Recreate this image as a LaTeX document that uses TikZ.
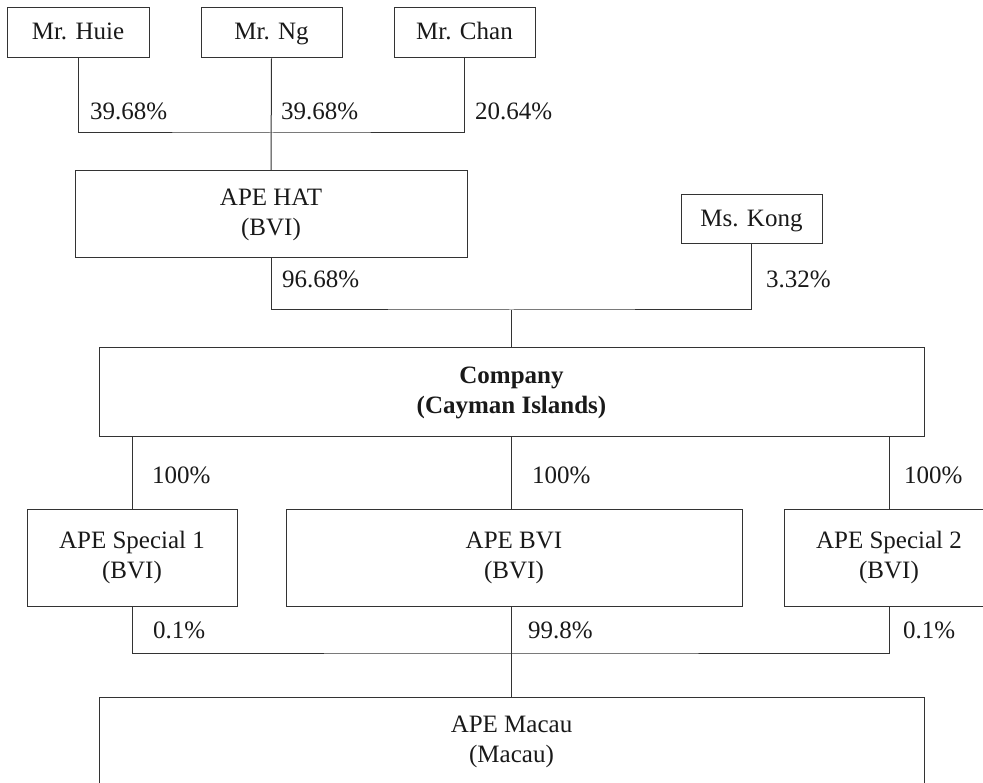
\documentclass[tikz,border=0pt]{standalone}
\usepackage{fontspec}
\setmainfont{Liberation Serif}
\begin{document}
\begin{tikzpicture}[x=1pt,y=-1pt,
  box/.style={draw=black!80, line width=1pt, rectangle, inner sep=0pt, align=center,
    font=\fontsize{25}{30}\selectfont, text=black!90},
  onebox/.style={box, text height=18pt, text depth=4pt},
  pct/.style={anchor=base west, inner sep=0pt, font=\fontsize{25}{30}\selectfont, text=black!90},
  conn/.style={draw=black!80, line width=1pt}]
\useasboundingbox (0,0) rectangle (983,783);
\clip (0,0) rectangle (983,783);
% owners
\node[onebox, minimum width=142pt, minimum height=50pt] (huie) at (78,33) {Mr. Huie};
\node[onebox, minimum width=141pt, minimum height=50pt] (ng) at (271.5,33) {Mr. Ng};
\node[onebox, minimum width=141pt, minimum height=50pt] (chan) at (464.5,33) {Mr. Chan};
\node[box, minimum width=392pt, minimum height=87pt] (hat) at (271,214.5) {APE HAT\\(BVI)};
\node[onebox, minimum width=141pt, minimum height=49pt] (kong) at (751.5,219.5) {Ms. Kong};
\node[box, minimum width=825pt, minimum height=89pt] (company) at (511.5,392.5) {\textbf{Company}\\\textbf{(Cayman Islands)}};
\node[box, minimum width=210pt, minimum height=97pt] (sp1) at (132,557.5) {APE Special 1\\(BVI)};
\node[box, minimum width=456pt, minimum height=97pt] (bvi) at (514,557.5) {APE BVI\\(BVI)};
\node[box, minimum width=210pt, minimum height=97pt] (sp2) at (889,557.5) {APE Special 2\\(BVI)};
\node[box, minimum width=825pt, minimum height=89pt] (macau) at (511.5,741.5) {APE Macau\\(Macau)};
% junctions
\coordinate (j1) at (271.5,133);
\coordinate (j2) at (511.5,310);
\coordinate (j3) at (511.5,653);
% connectors
\draw[conn] (huie.south) |- (j1) -| (chan.south);
\draw[conn] (ng.south) -- (hat.north);
\draw[conn] (hat.south) |- (j2) -| (kong.south);
\draw[conn] (j2) -- (company.north);
\draw[conn] (company.south -| sp1.north) -- (sp1.north);
\draw[conn] (company.south) -- (company.south |- bvi.north);
\draw[conn] (company.south -| sp2.north) -- (sp2.north);
\draw[conn] (sp1.south) |- (j3) -| (sp2.south);
\draw[conn] (j3 |- bvi.south) -- (macau.north);
% labels
\node[pct] (p1) at (90,120) {39.68\%};
\node[pct] (p2) at (281,120) {39.68\%};
\node[pct] (p3) at (475,120) {20.64\%};
\node[pct] (p4) at (282,288) {96.68\%};
\node[pct] (p5) at (766,288) {3.32\%};
\node[pct] (p6) at (152,483) {100\%};
\node[pct] (p7) at (532,483) {100\%};
\node[pct] (p8) at (904,483) {100\%};
\node[pct] (p9) at (153,638) {0.1\%};
\node[pct] (p10) at (528,638) {99.8\%};
\node[pct] (p11) at (903,638) {0.1\%};
\end{tikzpicture}
\end{document}
